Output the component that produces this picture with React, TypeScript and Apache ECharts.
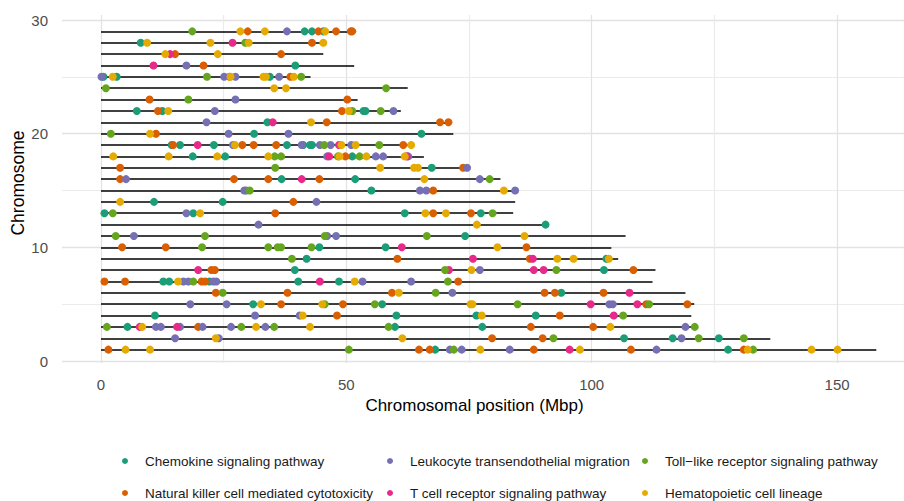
import React, { useEffect, useRef } from "react";
import * as echarts from "echarts";

// Chromosome numbers and their lengths (Mbp)
const chromosomes = [1, 2, 3, 4, 5, 6, 7, 8, 9, 10, 11, 12, 13, 14, 15, 16, 17, 18, 19, 20, 21, 22, 23, 24, 25, 26, 27, 28, 29];
const chromosomeLengths = [158.0, 136.4, 121.2, 120.3, 120.9, 119.1, 112.4, 113.0, 105.4, 104.0, 106.9, 90.8, 84.0, 84.4, 84.6, 81.4, 74.8, 65.8, 63.7, 71.8, 71.3, 61.1, 52.3, 62.5, 42.7, 51.6, 45.3, 45.8, 51.3];

// Gene positions per pathway: [chromosome, position (Mbp)]
const chemokine: [number, number][] = [
  [29, 41.5], [29, 43.0], [29, 45.3], [28, 8.1], [26, 39.6], [25, 0.5], [25, 3.2], [25, 34.4],
  [22, 7.3], [22, 12.5], [22, 53.5], [22, 53.9], [21, 33.9], [20, 31.2], [20, 65.3],
  [19, 14.4], [19, 16.1], [19, 23.0], [19, 37.9], [19, 41.2], [19, 42.6], [19, 43.0],
  [18, 18.7], [18, 25.3], [18, 51.2], [17, 67.4], [16, 36.8], [16, 51.8], [15, 55.1],
  [14, 10.8], [14, 24.8], [13, 0.7], [13, 18.8], [13, 61.9], [13, 77.4], [12, 90.6],
  [11, 74.2], [10, 44.5], [10, 58.0], [9, 41.9], [9, 103.0], [8, 39.5], [8, 102.5],
  [7, 12.7], [7, 13.9], [7, 22.1], [7, 40.2], [7, 48.5], [6, 93.8], [5, 31.0], [5, 57.3],
  [4, 11.0], [4, 60.2], [4, 76.5], [4, 88.6], [3, 5.4], [3, 59.9], [3, 77.7],
  [2, 106.6], [2, 116.5], [2, 125.9], [1, 68.1], [1, 127.8],
];
const naturalKiller: [number, number][] = [
  [29, 29.9], [29, 44.3], [29, 47.9], [29, 50.9], [29, 51.2], [28, 43.0], [27, 15.1], [27, 36.7],
  [26, 20.9], [25, 26.2], [25, 38.6], [23, 9.9], [23, 50.2], [22, 11.6], [22, 49.1],
  [21, 46.0], [21, 69.1], [21, 70.8], [20, 11.2], [19, 14.7], [19, 28.8], [19, 31.1], [19, 35.7], [19, 61.6],
  [18, 49.8], [17, 3.9], [17, 73.8], [16, 3.9], [16, 27.1], [16, 34.1], [16, 44.5], [15, 67.7],
  [14, 39.2], [13, 35.5], [13, 67.7], [13, 75.4], [10, 4.3], [10, 13.2], [10, 86.7],
  [9, 60.4], [9, 87.4], [8, 22.5], [8, 23.2], [8, 108.5], [7, 0.7], [7, 4.9], [7, 20.5], [7, 21.2], [7, 72.8],
  [6, 23.4], [6, 38.0], [6, 59.3], [6, 90.4], [6, 92.5], [6, 102.4], [5, 36.7], [5, 49.3], [5, 111.1], [5, 119.5],
  [4, 48.1], [4, 93.5], [3, 19.8], [3, 87.6], [3, 100.3], [2, 79.7], [2, 90.0],
  [1, 1.5], [1, 64.8], [1, 67.0], [1, 88.2], [1, 108.0], [1, 131.0],
];
const leukocyte: [number, number][] = [
  [29, 37.9], [26, 17.4], [25, 0.1], [25, 25.1], [25, 27.4], [25, 36.3], [23, 27.4], [22, 23.2], [22, 59.6],
  [21, 21.5], [20, 26.0], [20, 38.2], [19, 26.9], [19, 40.9], [19, 44.6], [19, 46.8], [19, 51.0],
  [18, 46.1], [18, 56.0], [18, 57.5], [18, 62.6], [17, 74.6], [16, 5.1], [16, 77.2],
  [15, 29.2], [15, 29.6], [15, 65.0], [15, 66.3], [15, 84.4], [14, 43.9], [13, 17.4], [12, 32.1],
  [11, 6.7], [11, 46.1], [11, 47.9], [8, 77.2], [7, 16.8], [7, 17.8], [7, 22.9], [7, 23.5], [7, 53.3], [7, 63.2],
  [6, 71.6], [5, 18.2], [5, 25.6], [5, 103.6], [5, 104.3], [4, 31.4], [4, 40.5],
  [3, 11.2], [3, 12.2], [3, 16.1], [3, 20.7], [3, 26.5], [3, 33.5], [3, 119.1],
  [2, 15.1], [2, 24.0], [2, 118.3], [1, 71.1], [1, 73.5], [1, 83.3], [1, 113.2],
];
const tCellReceptor: [number, number][] = [
  [28, 26.8], [27, 14.1], [26, 10.7], [21, 35.0], [19, 19.7], [19, 48.5], [18, 46.5], [18, 62.3],
  [16, 40.9], [10, 61.3], [9, 75.8], [9, 88.0], [8, 19.8], [8, 70.9], [8, 88.2], [8, 90.2],
  [7, 44.6], [6, 107.7], [5, 99.8], [5, 109.3], [4, 104.5], [3, 7.9], [3, 15.5], [1, 95.5],
];
const tollLike: [number, number][] = [
  [29, 18.6], [28, 29.4], [25, 21.6], [25, 40.8], [24, 1.0], [24, 58.1], [23, 17.8], [22, 51.2], [22, 57.0],
  [20, 2.0], [19, 45.5], [19, 56.7], [18, 35.4], [18, 36.7], [18, 48.3], [18, 52.7], [17, 35.5], [16, 79.2],
  [15, 30.3], [13, 2.4], [13, 79.8], [11, 3.0], [11, 21.2], [11, 45.6], [11, 66.4],
  [10, 20.6], [10, 34.1], [10, 36.0], [10, 36.7], [10, 42.9], [9, 38.9], [8, 70.1], [8, 92.8],
  [7, 18.8], [7, 70.7], [6, 24.8], [6, 68.2], [5, 45.6], [5, 55.8], [5, 84.9], [5, 111.7], [4, 106.4],
  [3, 1.2], [3, 28.6], [3, 35.3], [3, 58.6], [3, 121.0], [2, 92.2], [2, 121.8], [2, 131.0],
  [1, 50.5], [1, 71.9], [1, 132.9],
];
const hematopoietic: [number, number][] = [
  [29, 28.4], [29, 33.4], [29, 45.7], [28, 9.4], [28, 22.3], [28, 30.1], [28, 45.3], [27, 13.1], [27, 23.8],
  [25, 2.4], [25, 26.4], [25, 33.1], [25, 33.6], [25, 39.3], [24, 35.3], [24, 37.7], [22, 13.7], [22, 50.5],
  [21, 42.8], [20, 10.0], [19, 27.3], [19, 49.0], [19, 51.9], [19, 63.2],
  [18, 2.5], [18, 13.8], [18, 23.7], [18, 34.1], [18, 48.6], [18, 54.1], [18, 61.9],
  [17, 56.9], [17, 63.8], [17, 64.6], [16, 65.9], [15, 82.1], [14, 3.9], [13, 20.2], [13, 66.1], [13, 70.3],
  [12, 76.6], [11, 86.3], [10, 80.8], [9, 93.0], [9, 96.3], [9, 103.5], [8, 75.5], [7, 15.7], [7, 51.7],
  [6, 60.7], [5, 32.6], [5, 45.1], [5, 75.3], [5, 75.7], [4, 41.1], [4, 77.6],
  [3, 8.4], [3, 31.6], [3, 42.6], [3, 103.8], [2, 23.4], [2, 61.4],
  [1, 5.0], [1, 10.0], [1, 77.3], [1, 97.6], [1, 131.8], [1, 144.8], [1, 150.1],
];

const pathwayNames = [
  "Chemokine signaling pathway",
  "Natural killer cell mediated cytotoxicity",
  "Leukocyte transendothelial migration",
  "T cell receptor signaling pathway",
  "Toll\u2212like receptor signaling pathway",
  "Hematopoietic cell lineage",
];
const pathwayPoints = [chemokine, naturalKiller, leukocyte, tCellReceptor, tollLike, hematopoietic];

const xTicks = [0, 50, 100, 150];
const yTicks = [0, 10, 20, 30];

// styles
const COLORS = ["#1B9E77", "#D95F02", "#7570B3", "#E7298A", "#66A61E", "#E6AB02"];
const FONT = "'Liberation Sans', Arial, Helvetica, sans-serif";
const PX_PER_MBP = 4.907;
const X0 = 101; // pixel of position 0
const LEG_X = [122, 387, 642];
const LEG_Y = [453, 485];
const GRID_MAJOR = { color: "#E2E2E2", width: 1.3 };
const GRID_MINOR = { color: "#EBEBEB", width: 1.1 };

export default function App() {
  const ref = useRef<HTMLDivElement>(null);
  useEffect(() => {
    if (!ref.current) return;
    const chart = echarts.init(ref.current, null, { renderer: "svg" });
    const gridLeft = 62;
    const xMin0 = -(X0 - gridLeft) / PX_PER_MBP;
    const xMax0 = xMin0 + (904 - gridLeft) / PX_PER_MBP;
    const xMax1 = (904 - X0) / PX_PER_MBP;

    const legends = pathwayNames.map((name, i) => ({
      data: [{ name }],
      left: LEG_X[Math.floor(i / 2)],
      top: LEG_Y[i % 2],
      padding: 0,
      icon: "circle",
      itemWidth: 30,
      itemHeight: 6,
      selectedMode: false,
      textStyle: { fontFamily: FONT, fontSize: 13.5, color: "#1A1A1A", lineHeight: 16 },
    }));

    const option: any = {
      animation: false,
      backgroundColor: "#FFFFFF",
      textStyle: { fontFamily: FONT },
      grid: [
        { left: gridLeft, right: 0, top: 20, height: 341 },
        { left: X0, right: 0, top: 15, height: 348 },
      ],
      xAxis: [
        { gridIndex: 0, type: "value", min: xMin0, max: xMax0, show: false },
        {
          gridIndex: 1,
          type: "value",
          min: 0,
          max: xMax1,
          interval: 25,
          axisLine: { show: false },
          axisTick: { show: false },
          axisLabel: {
            fontFamily: FONT,
            fontSize: 15,
            lineHeight: 15,
            color: "#4D4D4D",
            margin: 14,
            showMaxLabel: false,
            formatter: (v: number) => (xTicks.includes(v) ? String(v) : ""),
          },
          splitLine: {
            show: true,
            lineStyle: { color: [GRID_MAJOR.color, GRID_MINOR.color], width: 1.2 },
          },
        },
      ],
      yAxis: [
        {
          gridIndex: 0,
          type: "value",
          min: 0,
          max: 30,
          interval: 10,
          axisLine: { show: false },
          axisTick: { show: false },
          axisLabel: {
            fontFamily: FONT,
            fontSize: 15,
            lineHeight: 15,
            color: "#4D4D4D",
            margin: 14,
            formatter: (v: number) => (yTicks.includes(v) ? String(v) : ""),
          },
          splitLine: { show: true, lineStyle: GRID_MAJOR },
          minorTick: { show: false, splitNumber: 2 },
          minorSplitLine: { show: true, lineStyle: GRID_MINOR },
        },
        { gridIndex: 1, type: "value", min: 0, max: 1, show: false },
      ],
      legend: legends,
      graphic: [
        {
          type: "text",
          x: 474.5,
          y: 405,
          silent: true,
          style: {
            text: "Chromosomal position (Mbp)",
            fontFamily: FONT,
            fontSize: 17,
            fill: "#000000",
            textAlign: "center",
            textVerticalAlign: "middle",
          },
        },
        {
          type: "text",
          x: 17.5,
          y: 183,
          rotation: Math.PI / 2,
          silent: true,
          style: {
            text: "Chromosome",
            fontFamily: FONT,
            fontSize: 17.5,
            fill: "#000000",
            textAlign: "center",
            textVerticalAlign: "middle",
          },
        },
      ],
      series: [
        {
          type: "lines",
          name: "chromosomes",
          coordinateSystem: "cartesian2d",
          xAxisIndex: 0,
          yAxisIndex: 0,
          silent: true,
          z: 2,
          lineStyle: { color: "#000000", width: 1.6, opacity: 1, curveness: 0 },
          data: chromosomes.map((c, i) => ({ coords: [[0, c], [chromosomeLengths[i], c]] })),
        },
        ...pathwayNames.map((name, i) => ({
          type: "scatter",
          name,
          xAxisIndex: 0,
          yAxisIndex: 0,
          z: 3,
          symbol: "circle",
          symbolSize: 8,
          itemStyle: { color: COLORS[i], opacity: 1 },
          data: pathwayPoints[i].map(([c, p]) => [p, c]),
        })),
      ],
    };
    chart.setOption(option);
    return () => chart.dispose();
  }, []);
  return (
    <div
      ref={ref}
      style={{ position: "fixed", left: 0, top: 0, width: 904, height: 501, background: "#fff" }}
    />
  );
}
